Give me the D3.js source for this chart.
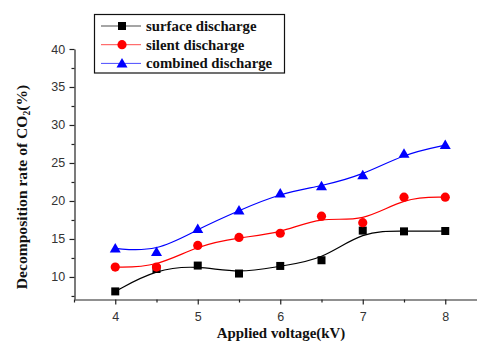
<!DOCTYPE html>
<html><head><meta charset="utf-8">
<script src="https://cdn.jsdelivr.net/npm/d3@7"></script>
<style>body{margin:0;background:#fff}svg{display:block}</style>
</head><body>
<script>
const voltages = [4, 4.5, 5, 5.5, 6, 6.5, 7, 7.5, 8];
const surfaceDischarge = [8.1, 11.05, 11.5, 10.45, 11.45, 12.2, 16.1, 16.0, 16.05];
const silentDischarge = [11.3, 11.3, 14.15, 15.2, 15.75, 18.0, 17.15, 20.5, 20.5];
const combinedDischarge = [13.75, 13.3, 16.3, 18.75, 21.0, 21.95, 23.4, 26.2, 27.35];
const seriesNames = ["surface discharge", "silent discharge", "combined discharge"];
const xTicks = [4, 5, 6, 7, 8];
const yTicks = [10, 15, 20, 25, 30, 35, 40];

const W = 477, H = 344;
const svg = d3.select("body").append("svg").attr("width", W).attr("height", H);
const x = d3.scaleLinear().domain([3.5, 8.4]).range([74, 478.25]);
const y = d3.scaleLinear().domain([7.1, 40]).range([299, 49]);

const series = [
  {name: seriesNames[0], vals: surfaceDischarge, color: "#000000", shape: "square"},
  {name: seriesNames[1], vals: silentDischarge, color: "#ff0000", shape: "circle"},
  {name: seriesNames[2], vals: combinedDischarge, color: "#0000ff", shape: "triangle"}
];

function marker(g, shape, color, cx, cy) {
  if (shape === "square") g.append("rect").attr("x", cx - 4).attr("y", cy - 4).attr("width", 8).attr("height", 8).attr("fill", color);
  else if (shape === "circle") g.append("circle").attr("cx", cx).attr("cy", cy).attr("r", 4.6).attr("fill", color);
  else g.append("path").attr("d", `M${cx},${cy-5.5}L${cx+5.5},${cy+4}L${cx-5.5},${cy+4}Z`).attr("fill", color);
}

// axes
const axisColor = "#222";
const xAxis = svg.append("g").attr("transform", "translate(0,299.5)")
  .call(d3.axisBottom(x).tickValues(xTicks).tickSize(5).tickSizeOuter(0).tickFormat(d3.format("d")));
const yAxis = svg.append("g").attr("transform", "translate(74.5,0)")
  .call(d3.axisLeft(y).tickValues(yTicks).tickSize(5).tickSizeOuter(0).tickFormat(d3.format("d")));
// minor ticks
svg.append("g").attr("transform", "translate(0,299.5)")
  .call(d3.axisBottom(x).tickValues([3.5, 4.5, 5.5, 6.5, 7.5]).tickSize(3).tickSizeOuter(0).tickFormat(""))
  .select(".domain").remove();
svg.append("g").attr("transform", "translate(74.5,0)")
  .call(d3.axisLeft(y).tickValues([7.5, 12.5, 17.5, 22.5, 27.5, 32.5, 37.5]).tickSize(3).tickSizeOuter(0).tickFormat(""))
  .select(".domain").remove();
svg.selectAll(".domain, .tick line").attr("stroke", axisColor).attr("stroke-width", 1.2);
xAxis.selectAll("text").attr("font-family", "Liberation Sans, Arial, sans-serif").attr("font-size", 12.5).attr("fill", "#333").attr("dy", "1.05em");
yAxis.selectAll("text").attr("font-family", "Liberation Sans, Arial, sans-serif").attr("font-size", 12.5).attr("fill", "#333").attr("dx", "-0.1em");

// lines
const line = d3.line().x((d, i) => x(voltages[i])).y(d => y(d)).curve(d3.curveBasis);
series.forEach(s => {
  svg.append("path").attr("d", line(s.vals)).attr("fill", "none").attr("stroke", s.color).attr("stroke-width", 1.2);
  const g = svg.append("g");
  s.vals.forEach((v, i) => marker(g, s.shape, s.color, x(voltages[i]), y(v)));
});

// legend
const lg = svg.append("g");
lg.append("rect").attr("x", 94.5).attr("y", 14.5).attr("width", 190).attr("height", 58.5)
  .attr("fill", "#fff").attr("stroke", "#111").attr("stroke-width", 1.2);
series.forEach((s, i) => {
  const cy = 26 + i * 18.7;
  lg.append("line").attr("x1", 101).attr("x2", 141).attr("y1", cy).attr("y2", cy).attr("stroke", s.color).attr("stroke-width", 1).attr("opacity", 0.7);
  marker(lg, s.shape, s.color, 122, cy);
  lg.append("text").attr("x", 146).attr("y", cy + 4.8).text(s.name)
    .attr("font-family", "Liberation Serif, Times New Roman, serif").attr("font-weight", "bold").attr("font-size", 14.8).attr("fill", "#111");
});

// axis titles
svg.append("text").attr("x", 281).attr("y", 338).attr("text-anchor", "middle")
  .attr("font-family", "Liberation Serif, Times New Roman, serif").attr("font-weight", "bold").attr("font-size", 14.9).attr("fill", "#111")
  .text("Applied voltage(kV)");
const yt = svg.append("text").attr("transform", "translate(27,187) rotate(-90)").attr("text-anchor", "middle")
  .attr("font-family", "Liberation Serif, Times New Roman, serif").attr("font-weight", "bold").attr("font-size", 15.6).attr("fill", "#111");
yt.append("tspan").text("Decomposition rate of CO");
yt.append("tspan").attr("font-size", 9.5).attr("dy", 3).text("2");
yt.append("tspan").attr("dy", -3).text("(%)");
</script>
</body></html>
